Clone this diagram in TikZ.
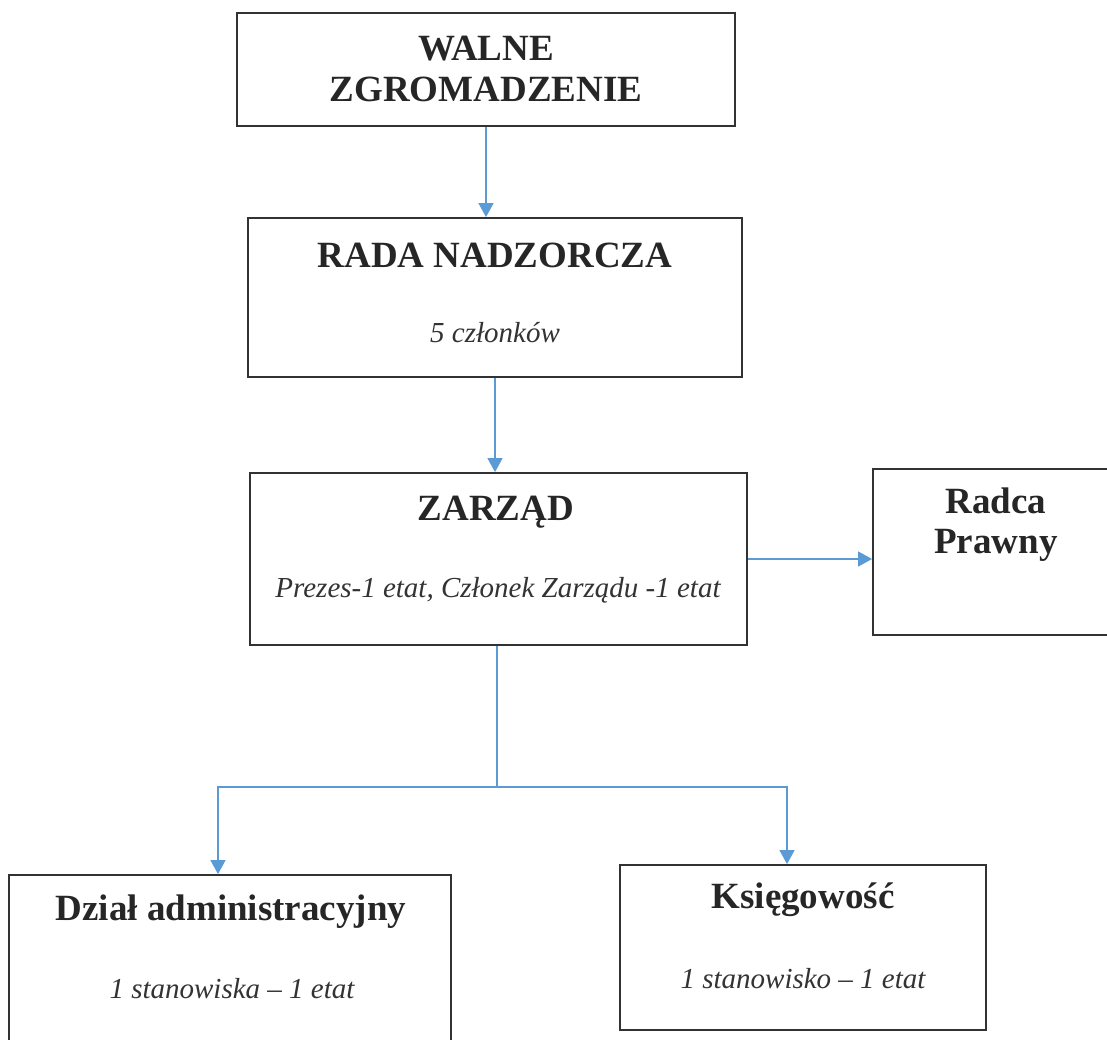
\documentclass[tikz,border=0pt]{standalone}
\usepackage{fontspec}
\setmainfont{Liberation Serif}
\usetikzlibrary{arrows.meta}
\definecolor{linkblue}{RGB}{91,155,213}
\definecolor{boxgray}{RGB}{50,50,50}
\tikzset{
  orgbox/.style={draw=boxgray, line width=1.8pt, rectangle, inner sep=0pt, fill=none},
  ttl/.style={anchor=base, inner sep=0pt, text=black!85, font=\fontsize{37}{40}\selectfont\bfseries},
  sub/.style={anchor=base, inner sep=0pt, text=black!80, font=\fontsize{29}{32}\selectfont\itshape},
  link/.style={draw=linkblue, line width=1.3pt},
  conn/.style={link, -{Triangle[width=15pt,length=14pt]}}
}
\begin{document}
\begin{tikzpicture}[x=1pt,y=-1pt]
\useasboundingbox (0,0) rectangle (1107,1039);
% boxes
\node[orgbox, minimum width=498pt, minimum height=113pt] (b1) at (486,69.5) {};
\node[orgbox, minimum width=494pt, minimum height=159pt] (b2) at (495,297.5) {};
\node[orgbox, minimum width=497pt, minimum height=172pt] (b3) at (498.5,559) {};
\node[orgbox, minimum width=250pt, minimum height=166pt] (b4) at (998,552) {};
\node[orgbox, minimum width=442pt, minimum height=190pt] (b5) at (230,970) {};
\node[orgbox, minimum width=366pt, minimum height=165pt] (b6) at (803,947.5) {};
% texts
\node[ttl] (t1a) at (486,60) {WALNE};
\node[ttl] (t1b) at (486,101) {ZGROMADZENIE};
\node[ttl] (t2a) at (495,267) {RADA NADZORCZA};
\node[sub] (t2b) at (495,342) {5 członków};
\node[ttl] (t3a) at (496,520) {ZARZĄD};
\node[sub] (t3b) at (498,597) {Prezes-1 etat, Członek Zarządu -1 etat};
\node[ttl] (t4a) at (996,513) {Radca};
\node[ttl] (t4b) at (996,553) {Prawny};
\node[ttl] (t5a) at (231,920) {Dział administracyjny};
\node[sub] (t5b) at (232,998) {1 stanowiska – 1 etat};
\node[ttl] (t6a) at (803,908) {Księgowość};
\node[sub] (t6b) at (803,988) {1 stanowisko – 1 etat};
% connectors
\draw[conn] (b1.south) -- (b1.south |- b2.north);
\draw[conn] (b2.south) -- (b2.south |- b3.north);
\draw[conn] (b3.east) -- (b3.east -| b4.west);
\coordinate (j) at (497,787);
\coordinate (jl) at (218,787);
\coordinate (jr) at (787,787);
\draw[link] (b3.south -| j) -- (j);
\draw[conn] (j) -- (jl) -- (jl |- b5.north);
\draw[conn] (j) -- (jr) -- (jr |- b6.north);
\end{tikzpicture}
\end{document}
